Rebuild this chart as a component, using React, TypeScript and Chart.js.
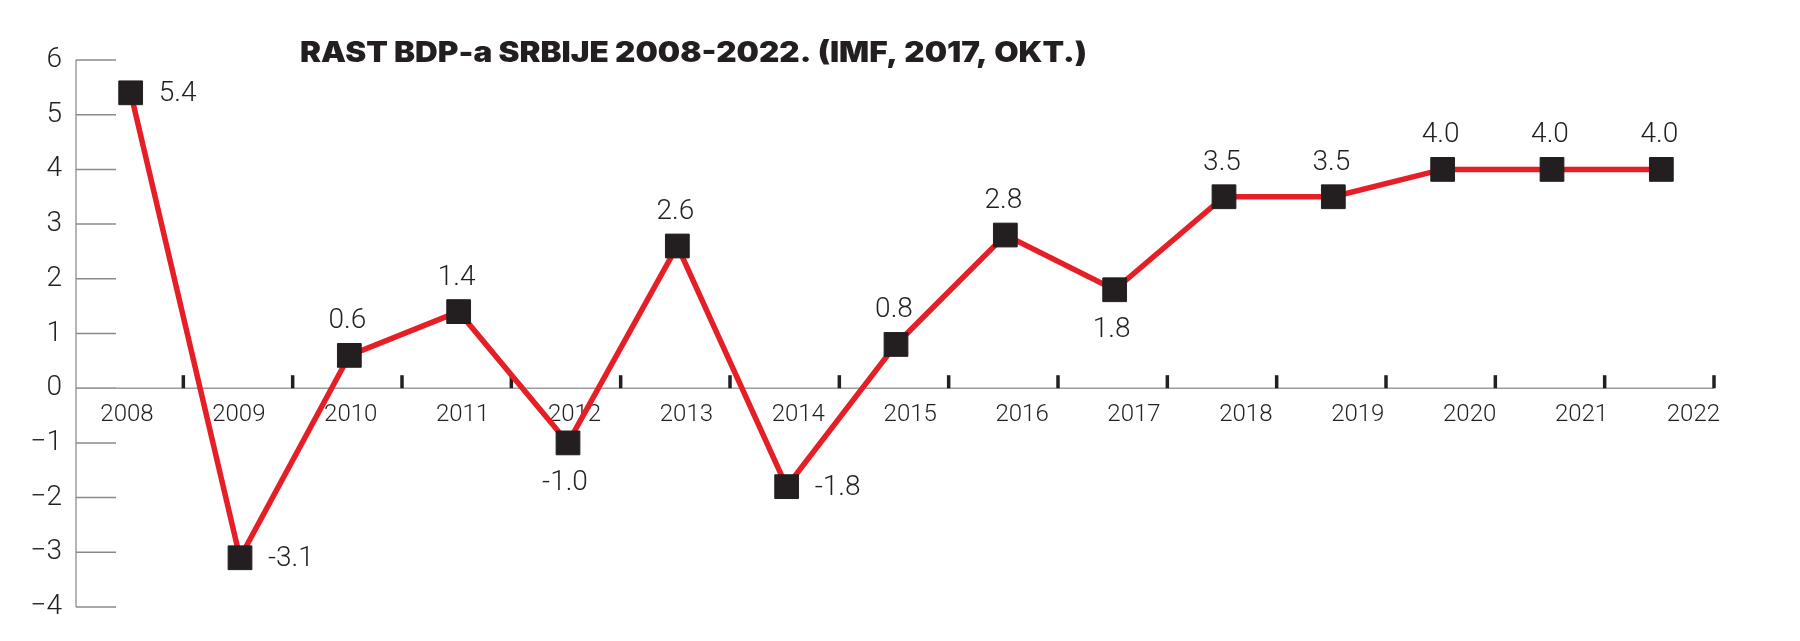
import { useEffect, useRef } from "react";
import { Chart, registerables } from "chart.js";

Chart.register(...registerables);

// ---- data ----
const years = ["2008", "2009", "2010", "2011", "2012", "2013", "2014", "2015", "2016", "2017", "2018", "2019", "2020", "2021", "2022"];
const growth = [5.4, -3.1, 0.6, 1.4, -1.0, 2.6, -1.8, 0.8, 2.8, 1.8, 3.5, 3.5, 4.0, 4.0, 4.0];
const labelSide = ["right", "right", "top", "top", "bottom", "top", "right", "top", "top", "bottom", "top", "top", "top", "top", "top"];
const yMin = -4;
const yMax = 6;
const titleText = "RAST BDP-a SRBIJE 2008-2022. (IMF, 2017, OKT.)";

// ---- style ----
const INK = "#231f20";
const RED = "#e61e26";
const AXIS_GRAY = "#9c9c9c";
const LIGHT = "Roboto, 'Liberation Sans', sans-serif";

const decorPlugin = {
  id: "decor",
  beforeDatasetsDraw(chart: any) {
    const { ctx, chartArea: a, scales } = chart;
    const x = scales.x;
    const y = scales.y;
    const y0 = y.getPixelForValue(0);
    ctx.save();
    // y axis line
    ctx.strokeStyle = AXIS_GRAY;
    ctx.lineWidth = 1.5;
    ctx.beginPath();
    ctx.moveTo(a.left, y.getPixelForValue(yMax));
    ctx.lineTo(a.left, y.getPixelForValue(yMin));
    ctx.stroke();
    // short y ticks inside the plot
    ctx.strokeStyle = "#8a8a8a";
    for (const t of y.ticks) {
      const py = y.getPixelForValue(t.value);
      ctx.beginPath();
      ctx.moveTo(a.left, py);
      ctx.lineTo(a.left + 40, py);
      ctx.stroke();
    }
    // zero line
    ctx.strokeStyle = AXIS_GRAY;
    ctx.beginPath();
    ctx.moveTo(a.left, y0);
    ctx.lineTo(a.right - 2, y0);
    ctx.stroke();
    // category boundary ticks above zero line
    const half = (x.getPixelForValue(1) - x.getPixelForValue(0)) / 2;
    ctx.strokeStyle = INK;
    ctx.lineWidth = 3.5;
    for (let i = 0; i < years.length; i++) {
      const px = x.getPixelForValue(i) + half - 2;
      ctx.beginPath();
      ctx.moveTo(px, y0);
      ctx.lineTo(px, y0 - 13);
      ctx.stroke();
    }
    // year labels just below the zero line
    ctx.fillStyle = INK;
    ctx.font = `300 24px ${LIGHT}`;
    ctx.textAlign = "center";
    ctx.textBaseline = "middle";
    const stretch = 1.0234;
    const shift = -5;
    years.forEach((yr, i) => {
      const px = x.getPixelForValue(i);
      const lx = a.left + (px - a.left) * stretch + shift;
      ctx.fillText(yr, lx, y0 + 27);
    });
    ctx.restore();
  },
  afterDatasetsDraw(chart: any) {
    const { ctx, chartArea: a, scales } = chart;
    const x = scales.x;
    const y = scales.y;
    ctx.save();
    ctx.fillStyle = INK;
    ctx.font = `300 28px ${LIGHT}`;
    ctx.textBaseline = "middle";
    growth.forEach((v, i) => {
      const px = x.getPixelForValue(i);
      const py = y.getPixelForValue(v);
      const txt = v.toFixed(1);
      const side = labelSide[i];
      if (side === "right") {
        ctx.textAlign = "left";
        ctx.fillText(txt, px + 28, py + 1);
      } else if (side === "top") {
        ctx.textAlign = "center";
        ctx.fillText(txt, px - 2, py - 34);
      } else {
        ctx.textAlign = "center";
        ctx.fillText(txt, px - 3, py + 40);
      }
    });
    // title
    ctx.font = `900 28px Inter, 'Open Sans', sans-serif`;
    ctx.textAlign = "left";
    ctx.textBaseline = "alphabetic";
    const targetWidth = 787;
    const m = ctx.measureText(titleText).width;
    const sx = targetWidth / m;
    ctx.translate(a.left + 224, 62);
    ctx.scale(sx, 1);
    ctx.fillText(titleText, 0, 0);
    ctx.restore();
  },
};

export default function App() {
  const ref = useRef<HTMLCanvasElement | null>(null);
  useEffect(() => {
    if (!ref.current) return;
    const chart = new Chart(ref.current, {
      type: "line",
      data: {
        labels: years,
        datasets: [
          {
            data: growth,
            borderColor: RED,
            borderWidth: 5.5,
            tension: 0,
            pointStyle: "rect",
            pointRadius: 16.8,
            pointHoverRadius: 16.8,
            pointBackgroundColor: INK,
            pointBorderColor: INK,
            pointBorderWidth: 1,
            clip: false as any,
          },
        ],
      },
      options: {
        animation: false,
        responsive: true,
        maintainAspectRatio: false,
        layout: { padding: { left: 0, right: 84, top: 60, bottom: 34 } },
        plugins: {
          legend: { display: false },
          tooltip: { enabled: false },
          title: { display: false },
        },
        scales: {
          x: {
            type: "category",
            offset: true,
            display: false,
          },
          y: {
            min: yMin,
            max: yMax,
            afterFit: (axis: any) => {
              axis.width = 76;
            },
            ticks: {
              stepSize: 1,
              padding: 14,
              color: INK,
              font: { family: LIGHT, size: 28, weight: 300 as any },
              callback: (v: any) => (Number(v) < 0 ? "\u2212" + Math.abs(Number(v)) : String(v)),
            },
            grid: { display: false, drawTicks: false },
            border: { display: false },
          },
        },
      },
      plugins: [decorPlugin],
    });
    return () => chart.destroy();
  }, []);
  return (
    <div style={{ position: "fixed", left: 0, top: 0, width: "1800px", height: "641px", background: "#fff" }}>
      <canvas ref={ref} />
    </div>
  );
}
